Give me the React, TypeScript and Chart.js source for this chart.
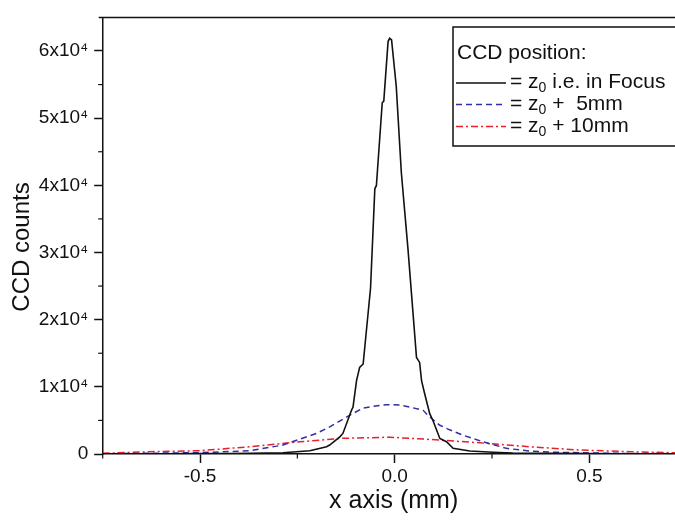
import React, { useEffect, useRef } from "react";
import { Chart, registerables } from "chart.js";

Chart.register(...registerables);

// ---- data ----
const focusX = [-0.75, -0.6, -0.5, -0.42, -0.372, -0.287, -0.218, -0.175, -0.167, -0.141, -0.133, -0.111, -0.107, -0.098, -0.09, -0.081, -0.062, -0.051, -0.047, -0.032, -0.028, -0.017, -0.013, -0.008, 0.004, 0.017, 0.034, 0.056, 0.064, 0.069, 0.077, 0.09, 0.098, 0.116, 0.133, 0.15, 0.193, 0.252, 0.303, 0.4, 0.5, 0.6, 0.72];
const focusY = [30, 40, 50, 70, 100, 190, 490, 1080, 1330, 2560, 3060, 6500, 6990, 10930, 12890, 13400, 24710, 39480, 39980, 52290, 52540, 61400, 61890, 61640, 54750, 41950, 30620, 14370, 13630, 10930, 8970, 6010, 5020, 2320, 1820, 840, 440, 250, 150, 100, 60, 40, 30];

const fiveX = [-0.75, -0.5, -0.372, -0.287, -0.201, -0.167, -0.116, -0.081, -0.056, -0.021, 0.013, 0.039, 0.073, 0.09, 0.116, 0.141, 0.175, 0.227, 0.287, 0.347, 0.415, 0.56, 0.72];
const fiveY = [30, 200, 490, 1330, 3060, 4030, 5760, 6840, 7090, 7340, 7300, 6990, 6500, 5510, 4280, 3600, 2810, 1820, 840, 440, 250, 100, 50];

const tenX = [-0.75, -0.629, -0.5, -0.372, -0.244, -0.141, -0.013, 0.09, 0.218, 0.347, 0.475, 0.603, 0.72];
const tenY = [100, 340, 490, 1080, 1820, 2320, 2500, 2170, 1670, 1080, 590, 340, 190];

const xMajorTicks = [-0.5, 0, 0.5];
const xMinorTicks = [-0.75, -0.25, 0.25, 0.75];
const yMajorTicks = [0, 10000, 20000, 30000, 40000, 50000, 60000];
const yMinorTicks = [5000, 15000, 25000, 35000, 45000, 55000];

const xTitle = "x axis (mm)";
const yTitle = "CCD counts";
const legendTitle = "CCD position:";
const legendRest = [" i.e. in Focus", " +  5mm", " + 10mm"];

const FAMILY = '"Liberation Sans", Arial, sans-serif';

function fmtY(v: number): string {
  return v === 0 ? "0" : `${v / 10000}x10\u2074`;
}

function pts(xs: number[], ys: number[]) {
  return xs.map((x, i) => ({ x, y: ys[i] }));
}

const decorPlugin = {
  id: "decor",
  beforeDraw(chart: any) {
    const ctx = chart.ctx;
    ctx.save();
    ctx.fillStyle = "#ffffff";
    ctx.fillRect(0, 0, chart.width, chart.height);
    ctx.restore();
  },
  afterDraw(chart: any) {
    const ctx = chart.ctx;
    const { left, right, top, bottom } = chart.chartArea;
    const xs = chart.scales.x;
    const ys = chart.scales.y;
    ctx.save();
    ctx.strokeStyle = "#111";
    ctx.lineWidth = 1.5;
    // top frame line
    ctx.beginPath();
    ctx.moveTo(left - 4, top);
    ctx.lineTo(chart.width, top);
    ctx.stroke();
    // minor ticks
    ctx.lineWidth = 1.2;
    xMinorTicks.forEach((v) => {
      const p = xs.getPixelForValue(v);
      if (p < left - 1 || p > right + 1) return;
      ctx.beginPath();
      ctx.moveTo(p, bottom);
      ctx.lineTo(p, bottom + 4.5);
      ctx.stroke();
    });
    yMinorTicks.forEach((v) => {
      const p = ys.getPixelForValue(v);
      ctx.beginPath();
      ctx.moveTo(left - 4.5, p);
      ctx.lineTo(left, p);
      ctx.stroke();
    });

    // axis titles
    ctx.fillStyle = "#111";
    ctx.font = `25px ${FAMILY}`;
    ctx.textAlign = "center";
    ctx.textBaseline = "middle";
    ctx.fillText(xTitle, xs.getPixelForValue(0) - 1, 501);
    ctx.save();
    ctx.translate(22, 247);
    ctx.rotate(-Math.PI / 2);
    ctx.font = `24px ${FAMILY}`;
    ctx.fillText(yTitle, 0, 0);
    ctx.restore();

    // legend box
    const bx = 453, by = 27, bb = 146;
    ctx.lineWidth = 1.5;
    ctx.strokeStyle = "#111";
    ctx.fillStyle = "#ffffff";
    ctx.fillRect(bx, by, chart.width - bx + 10, bb - by);
    ctx.strokeRect(bx, by, chart.width - bx + 10, bb - by);

    const mainFont = `21px ${FAMILY}`;
    const subFont = `14px ${FAMILY}`;
    ctx.fillStyle = "#111";
    ctx.textBaseline = "alphabetic";
    ctx.textAlign = "left";
    ctx.font = mainFont;
    ctx.fillText(legendTitle, 457, 59);

    const baselines = [88, 109.5, 131.5];
    chart.data.datasets.forEach((ds: any, i: number) => {
      const b = baselines[i];
      const ly = b - 5;
      ctx.save();
      ctx.strokeStyle = ds.borderColor;
      ctx.lineWidth = ds.borderWidth;
      ctx.setLineDash(ds.borderDash || []);
      ctx.beginPath();
      ctx.moveTo(456, ly);
      ctx.lineTo(506, ly);
      ctx.stroke();
      ctx.restore();
      let x = 510;
      ctx.font = mainFont;
      ctx.fillText("= z", x, b);
      x += ctx.measureText("= z").width;
      ctx.font = subFont;
      ctx.fillText("0", x, b + 4);
      x += ctx.measureText("0").width;
      ctx.font = mainFont;
      ctx.fillText(legendRest[i], x, b);
    });
    ctx.restore();
  },
};

export default function App() {
  const ref = useRef<HTMLCanvasElement | null>(null);

  useEffect(() => {
    if (!ref.current) return;
    const chart = new Chart(ref.current, {
      type: "line",
      data: {
        datasets: [
          {
            label: "focus",
            data: pts(focusX, focusY),
            borderColor: "#111111",
            borderWidth: 1.6,
            pointRadius: 0,
            tension: 0,
          },
          {
            label: "5mm",
            data: pts(fiveX, fiveY),
            borderColor: "#2f2fa6",
            borderWidth: 1.5,
            borderDash: [6, 4],
            pointRadius: 0,
            tension: 0,
          },
          {
            label: "10mm",
            data: pts(tenX, tenY),
            borderColor: "#e8202a",
            borderWidth: 1.5,
            borderDash: [7, 3, 2, 3],
            pointRadius: 0,
            tension: 0,
          },
        ],
      },
      options: {
        animation: false,
        responsive: false,
        devicePixelRatio: 1,
        layout: { padding: { top: 14, left: 0, right: 0, bottom: 0 } },
        plugins: { legend: { display: false }, tooltip: { enabled: false } },
        scales: {
          x: {
            type: "linear",
            min: -0.75,
            max: 0.72,
            afterBuildTicks: (s: any) => {
              s.ticks = xMajorTicks.map((v) => ({ value: v }));
            },
            afterFit: (s: any) => {
              s.height = 67;
            },
            ticks: {
              callback: (v: any) => Number(v).toFixed(1),
              font: { family: FAMILY, size: 19 },
              color: "#111",
              padding: 2,
              maxRotation: 0,
              autoSkip: false,
            },
            grid: { drawOnChartArea: false, tickLength: 9, tickColor: "#111", tickWidth: 1.5 },
            border: { color: "#111", width: 1.5 },
            title: { display: false, text: xTitle },
          },
          y: {
            type: "linear",
            min: 0,
            max: 65000,
            afterBuildTicks: (s: any) => {
              s.ticks = yMajorTicks.map((v) => ({ value: v }));
            },
            afterFit: (s: any) => {
              s.width = 102.7;
            },
            ticks: {
              callback: (v: any) => fmtY(Number(v)),
              font: { family: FAMILY, size: 19 },
              color: "#111",
              padding: 6,
              autoSkip: false,
            },
            grid: { drawOnChartArea: false, tickLength: 8.5, tickColor: "#111", tickWidth: 1.5 },
            border: { color: "#111", width: 1.5 },
            title: { display: false, text: yTitle },
          },
        },
      },
      plugins: [decorPlugin],
    } as any);
    return () => chart.destroy();
  }, []);

  return (
    <div style={{ position: "fixed", left: 0, top: 0, width: 675, height: 521, background: "#fff" }}>
      <canvas ref={ref} width={675} height={521} style={{ display: "block", width: 675, height: 521 }} />
    </div>
  );
}
